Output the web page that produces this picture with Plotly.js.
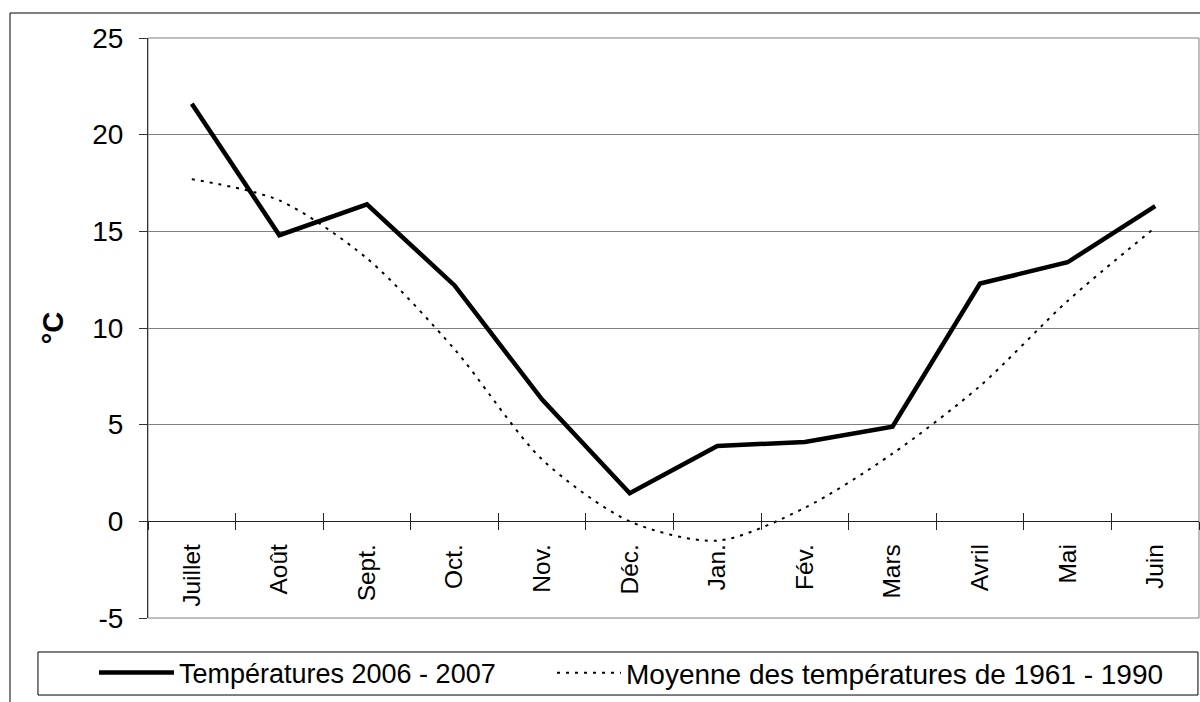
<!DOCTYPE html>
<html>
<head>
<meta charset="utf-8">
<script src="https://cdn.plot.ly/plotly-3.0.1.min.js"></script>
<style>
  html, body { margin: 0; padding: 0; background: #fff; }
  #chart { width: 1200px; height: 702px; }
</style>
</head>
<body>
<div id="chart"></div>
<script>
const FONT = "Liberation Sans, Arial, sans-serif";
const GRID_COLOR = "#808080";

// mois (juillet 2006 -> juin 2007)
const months = ["Juillet", "Août", "Sept.", "Oct.", "Nov.", "Déc.",
                "Jan.", "Fév.", "Mars", "Avril", "Mai", "Juin"];
// températures mensuelles 2006 - 2007 (°C)
const temps2006 = [21.6, 14.8, 16.4, 12.2, 6.3, 1.45, 3.9, 4.1, 4.9, 12.3, 13.4, 16.3];
// moyenne 1961 - 1990 (°C)
const normals = [17.7, 16.6, 13.6, 8.9, 3.2, 0.0, -1.0, 0.7, 3.5, 7.0, 11.4, 15.2];
const yTicks = [-5, 0, 5, 10, 15, 20, 25];

const traces = [
    {
        name: "Températures 2006 - 2007",
        x: months,
        y: temps2006,
        type: "scatter",
        mode: "lines",
        line: { color: "#000", width: 4.5 },
        hoverinfo: "x+y",
        legend: "legend",
    },
    {
        name: "Moyenne des températures de 1961 - 1990",
        x: months,
        y: normals,
        type: "scatter",
        mode: "lines",
        line: { color: "#000", width: 2, dash: "3px,6px", shape: "spline", smoothing: 0.8 },
        hoverinfo: "x+y",
        legend: "legend2",
    },
    // invisible trace so the second x axis (upper half of the crossing ticks) is drawn
    {
        x: months,
        y: normals,
        xaxis: "x2",
        type: "scatter",
        mode: "lines",
        line: { width: 0 },
        opacity: 0,
        showlegend: false,
        hoverinfo: "skip",
    },
];

const zeroPos = (0 - yTicks[0]) / (yTicks[yTicks.length - 1] - yTicks[0]);

const legendBase = {
    orientation: "h",
    xanchor: "left",
    y: -0.0948,
    yanchor: "middle",
    bgcolor: "rgba(0,0,0,0)",
    borderwidth: 0,
};

const layout = {
    width: 1200,
    height: 702,
    margin: { l: 148, r: 1, t: 38, b: 84 },
    paper_bgcolor: "#fff",
    plot_bgcolor: "#fff",
    font: { family: FONT, size: 24, color: "#000" },
    showlegend: true,
    legend: { ...legendBase, x: -0.0514, itemwidth: 75,
              font: { family: FONT, size: 27, color: "#000" } },
    legend2: { ...legendBase, x: 0.3844, itemwidth: 64,
               font: { family: FONT, size: 28, color: "#000" } },
    xaxis: {
        type: "category",
        categoryorder: "array",
        categoryarray: months,
        range: [-0.5, months.length - 0.5],
        anchor: "free",
        position: zeroPos,
        showline: true,
        linecolor: "#222",
        linewidth: 1,
        showgrid: false,
        zeroline: false,
        ticks: "outside",
        tickson: "boundaries",
        ticklen: 8,
        tickcolor: "#222",
        tickangle: -90,
        ticklabelstandoff: 12,
        tickfont: { family: FONT, size: 24.5, color: "#000" },
    },
    xaxis2: {
        type: "category",
        categoryorder: "array",
        categoryarray: months,
        range: [-0.5, months.length - 0.5],
        overlaying: "x",
        anchor: "free",
        position: zeroPos,
        side: "bottom",
        showline: false,
        showgrid: false,
        zeroline: false,
        ticks: "inside",
        tickson: "boundaries",
        ticklen: 8,
        tickcolor: "#222",
        showticklabels: false,
    },
    yaxis: {
        range: [yTicks[0], yTicks[yTicks.length - 1]],
        tickvals: yTicks,
        ticktext: yTicks.map(String),
        showline: true,
        linecolor: "#333",
        linewidth: 1,
        showgrid: true,
        gridcolor: GRID_COLOR,
        gridwidth: 1,
        zeroline: false,
        ticks: "outside",
        ticklen: 8,
        tickcolor: "#333",
        ticklabelstandoff: 10,
        tickfont: { family: FONT, size: 28, color: "#000" },
        title: {
            text: "°C",
            font: { family: FONT, size: 29, color: "#000", weight: "bold" },
            standoff: 20,
        },
    },
    shapes: [
        // plot area border
        { type: "rect", xref: "paper", yref: "paper", x0: 0, x1: 1, y0: 0, y1: 1,
          line: { color: GRID_COLOR, width: 1 }, layer: "below" },
        // legend box
        { type: "rect", xref: "paper", yref: "paper", x0: -0.1047, x1: 0.999, y0: -0.1328, y1: -0.0586,
          line: { color: "#000", width: 1 }, fillcolor: "rgba(0,0,0,0)" },
        // outer chart frame
        { type: "rect", xref: "paper", yref: "paper", x0: -0.1313, x1: 1.02, y0: -0.25, y1: 1.0431,
          line: { color: "#000", width: 1 }, fillcolor: "rgba(0,0,0,0)" },
    ],
};

Plotly.newPlot("chart", traces, layout, { displayModeBar: false, staticPlot: true });
</script>
</body>
</html>
